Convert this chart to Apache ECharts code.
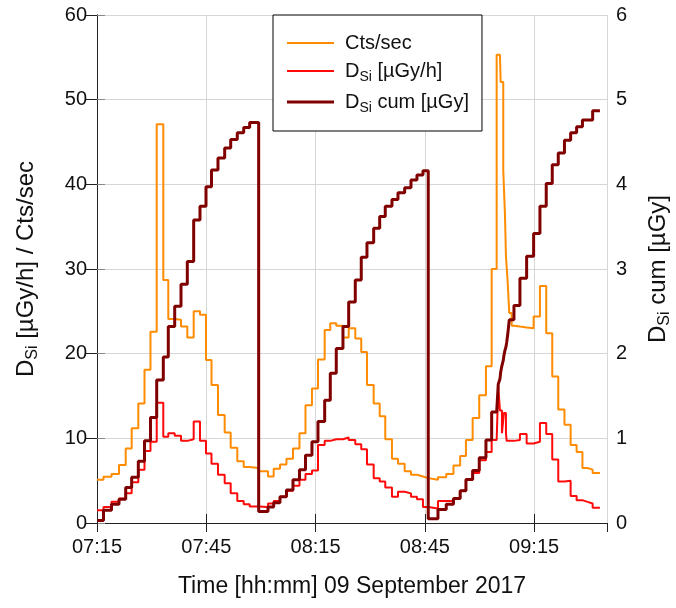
<!DOCTYPE html>
<html>
<head>
<meta charset="utf-8">
<script src="https://cdn.jsdelivr.net/npm/echarts@6/dist/echarts.min.js"></script>
<style>
html,body{margin:0;padding:0;background:#fff;}
#chart{width:676px;height:608px;}
</style>
</head>
<body>
<div id="chart"></div>
<script>
// Step start times, minutes after 07:15
const stepStartMin = [0, 1.78, 3.98, 6.04, 7.88, 9.52, 11.34, 13.04, 14.68, 16.39,
  18.20, 19.57, 21.33, 23.06, 24.79, 26.54, 28.27, 29.92, 31.43, 33.21,
  35.05, 36.70, 38.51, 40.27, 41.91, 44.38, 46.94, 48.50, 50.23, 52.01,
  53.80, 55.58, 57.23, 59.01, 60.66, 62.50, 64.04, 65.68, 67.52, 69.09,
  70.90, 72.54, 74.11, 75.95, 77.60, 79.13, 80.97, 82.62, 84.46, 86.19,
  87.83, 89.48, 90.93, 93.60, 95.87, 97.85, 99.69, 101.28, 103.12, 104.93,
  106.77, 108.34, 109.71, 110.15, 110.61, 110.81, 111.16, 111.52, 111.71, 111.99,
  112.26, 112.45, 112.73, 113.17, 113.83, 114.46, 116.10, 117.94, 119.86, 121.59,
  123.32, 124.97, 126.62, 128.32, 130.02, 131.66, 133.26, 134.63, 136.06];
const lastStepEndMin = 138.06;

const ctsPerSec = [5.1, 5.45, 5.8, 6.85, 8.8, 11.2, 14.1, 18.1, 22.6, 47.1,
  28.7, 24.1, 24.0, 23.2, 21.9, 25.0, 24.6, 19.25, 16.3, 12.75,
  10.7, 8.9, 7.3, 6.6, 6.5, 6.1, 5.5, 6.4, 6.9, 7.6,
  8.8, 10.6, 13.9, 15.9, 19.3, 22.8, 23.6, 23.3, 21.9, 23.0,
  21.8, 20.2, 16.3, 14.1, 12.6, 9.9, 7.6, 7.0, 6.1, 5.7,
  5.5, 5.3, 5.1, 5.4, 5.8, 6.8, 7.9, 9.8, 12.4, 15.1,
  18.5, 30.0, 55.3, 55.3, 55.3, 52.1, 52.1, 41.7, 41.7, 36.4,
  31.5, 31.5, 28.5, 24.8, 23.3, 23.2, 23.1, 23.0, 24.4, 28.0,
  22.4, 17.3, 13.4, 11.6, 9.2, 8.4, 6.5, 6.3, 5.9];

const doseRate = [1.5, 1.9, 2.5, 2.9, 3.5, 4.8, 6.3, 8.5, 9.6, 14.2,
  10.2, 10.6, 10.3, 9.7, 9.9, 12.0, 9.7, 8.2, 7.0, 5.7,
  4.7, 3.5, 2.6, 2.2, 1.95, 1.9, 2.3, 2.6, 3.1, 3.8,
  4.4, 5.1, 5.8, 6.2, 9.2, 9.7, 9.9, 9.9, 10.1, 9.8,
  9.3, 8.7, 6.9, 5.3, 4.9, 4.2, 3.1, 3.7, 3.5, 3.1,
  2.8, 1.9, 1.7, 2.6, 2.6, 2.9, 3.8, 5.1, 5.9, 7.4,
  8.4, 9.8, 9.8, 16.1, 13.3, 13.3, 10.6, 10.6, 13.0, 13.0,
  10.6, 9.7, 9.7, 9.7, 9.7, 9.8, 10.5, 9.4, 9.6, 11.8,
  10.5, 7.5, 4.9, 5.0, 3.2, 2.7, 2.5, 2.3, 1.8];

const doseCum = [0.03, 0.15, 0.22, 0.28, 0.42, 0.54, 0.73, 0.97, 1.245, 1.69,
  1.96, 2.32, 2.56, 2.82, 3.09, 3.58, 3.74, 3.97, 4.17, 4.31,
  4.43, 4.53, 4.61, 4.67, 4.73, 0.135, 0.19, 0.24, 0.31, 0.39,
  0.51, 0.63, 0.80, 0.96, 1.20, 1.45, 1.77, 2.06, 2.32, 2.61,
  2.87, 3.14, 3.31, 3.48, 3.62, 3.74, 3.82, 3.90, 3.96, 4.05,
  4.11, 4.16, 0.05, 0.16, 0.22, 0.29, 0.38, 0.515, 0.62, 0.77,
  0.98, 1.31, 1.31, 1.64, 1.70, 1.78, 1.86, 1.92, 1.98, 2.04,
  2.08, 2.13, 2.22, 2.40, 2.40, 2.57, 2.89, 3.15, 3.42, 3.74,
  4.01, 4.23, 4.37, 4.52, 4.61, 4.68, 4.76, 4.76, 4.87];

const xTickLabels = ['07:15', '07:45', '08:15', '08:45', '09:15'];
const leftTicks = [0, 10, 20, 30, 40, 50, 60];
const rightTicks = [0, 1, 2, 3, 4, 5, 6];

function stepData(values) {
  const d = stepStartMin.map((t, i) => [t, values[i]]);
  d.push([lastStepEndMin, values[values.length - 1]]);
  return d;
}

const FONT = 'Liberation Sans, Arial, Helvetica, sans-serif';
const TXT = '#111';
const GRID = '#d6d6d6';
const FRAME = '#222';

const chart = echarts.init(document.getElementById('chart'), null, {renderer: 'canvas'});

// main text + lowered subscript
const subRich = (size, subSize, lh) => ({
  m: {fontSize: size, fontFamily: FONT, color: TXT, verticalAlign: 'middle', lineHeight: lh},
  s: {fontSize: subSize, fontFamily: FONT, color: TXT, verticalAlign: 'bottom', lineHeight: subSize}
});

const thinIcon = 'path://M0,0H0.1V0.1H0Z M0,1H47V3H0Z M0,3.9H0.1V4H0Z';
const thickIcon = 'path://M0,0H0.1V0.1H0Z M0,0.5H47V3.5H0Z M0,3.9H0.1V4H0Z';

const option = {
  animation: false,
  backgroundColor: '#fff',
  textStyle: {fontFamily: FONT},
  grid: {left: 97, right: 69, top: 15, bottom: 85, containLabel: false, outerBoundsMode: 'none'},
  legend: {
    orient: 'vertical',
    left: 273,
    top: 15,
    backgroundColor: '#fff',
    borderColor: '#000',
    borderWidth: 1,
    padding: [18, 13, 16, 14],
    itemGap: 8,
    itemWidth: 47,
    itemHeight: 4,
    data: [
      {name: 'cts', icon: thinIcon},
      {name: 'rate', icon: thinIcon},
      {name: 'cum', icon: thickIcon}
    ],
    formatter: function (name) {
      if (name === 'cts') return '{m|Cts/sec}';
      if (name === 'rate') return '{m|D}{s|Si}{m| [µGy/h]}';
      return '{m|D}{s|Si}{m| cum [µGy]}';
    },
    textStyle: {fontSize: 20, color: TXT, padding: [0, 0, 0, 6], rich: subRich(20, 14, 26)}
  },
  xAxis: [{
    type: 'value', min: 0, max: 140, interval: 30, position: 'bottom',
    axisLine: {show: true, lineStyle: {color: FRAME, width: 1}},
    axisTick: {show: true, inside: true, length: 9, lineStyle: {color: FRAME}},
    axisLabel: {
      fontSize: 20, color: TXT, margin: 14, fontFamily: FONT, showMaxLabel: false,
      formatter: function (v) { const k = Math.round(v / 30); return (v % 30 === 0 && xTickLabels[k]) ? xTickLabels[k] : ''; }
    },
    splitLine: {show: true, lineStyle: {color: GRID, width: 1}},
    name: 'Time [hh:mm] 09 September 2017',
    nameLocation: 'middle', nameGap: 52,
    nameTextStyle: {fontSize: 23, color: TXT, fontFamily: FONT}
  }, {
    type: 'value', min: 0, max: 140, interval: 30, position: 'top',
    axisLine: {show: true, lineStyle: {color: FRAME, width: 1}},
    axisTick: {show: true, inside: true, length: 9, lineStyle: {color: FRAME}},
    axisLabel: {show: false},
    splitLine: {show: false}
  }],
  yAxis: [{
    type: 'value', min: leftTicks[0], max: leftTicks[leftTicks.length - 1], interval: 10, position: 'left',
    axisLine: {show: true, lineStyle: {color: FRAME, width: 1}},
    axisTick: {show: true, inside: true, length: 8, lineStyle: {color: '#888'}},
    axisLabel: {fontSize: 20, color: TXT, margin: 10, fontFamily: FONT},
    splitLine: {show: true, lineStyle: {color: GRID, width: 1}},
    name: '{m|D}{s|Si}{m| [µGy/h] / Cts/sec}',
    nameLocation: 'middle', nameGap: 56, nameRotate: 90,
    nameTextStyle: {fontSize: 24, color: TXT, rich: subRich(24, 16, 30)}
  }, {
    type: 'value', min: rightTicks[0], max: rightTicks[rightTicks.length - 1], interval: 1, position: 'right',
    axisLine: {show: true, lineStyle: {color: FRAME, width: 1}},
    axisTick: {show: true, inside: true, length: 12, lineStyle: {color: FRAME}},
    axisLabel: {fontSize: 20, color: TXT, margin: 9, fontFamily: FONT},
    splitLine: {show: false},
    name: '{m|D}{s|Si}{m| cum [µGy]}',
    nameLocation: 'middle', nameGap: 36, nameRotate: 90,
    nameTextStyle: {fontSize: 24, color: TXT, rich: subRich(24, 16, 30)}
  }],
  series: [{
    name: 'cts', type: 'line', step: 'end', xAxisIndex: 0, yAxisIndex: 0,
    data: stepData(ctsPerSec), symbol: 'none', showSymbol: false,
    lineStyle: {color: '#ff8c00', width: 2}, itemStyle: {color: '#ff8c00'}, z: 3
  }, {
    name: 'rate', type: 'line', step: 'end', xAxisIndex: 0, yAxisIndex: 0,
    data: stepData(doseRate), symbol: 'none', showSymbol: false,
    lineStyle: {color: '#ff0a0a', width: 2}, itemStyle: {color: '#ff0a0a'}, z: 4
  }, {
    name: 'cum', type: 'line', step: 'end', xAxisIndex: 0, yAxisIndex: 1,
    data: stepData(doseCum), symbol: 'none', showSymbol: false,
    lineStyle: {color: '#800000', width: 3}, itemStyle: {color: '#800000'}, z: 5
  }]
};
chart.setOption(option);
</script>
</body>
</html>
